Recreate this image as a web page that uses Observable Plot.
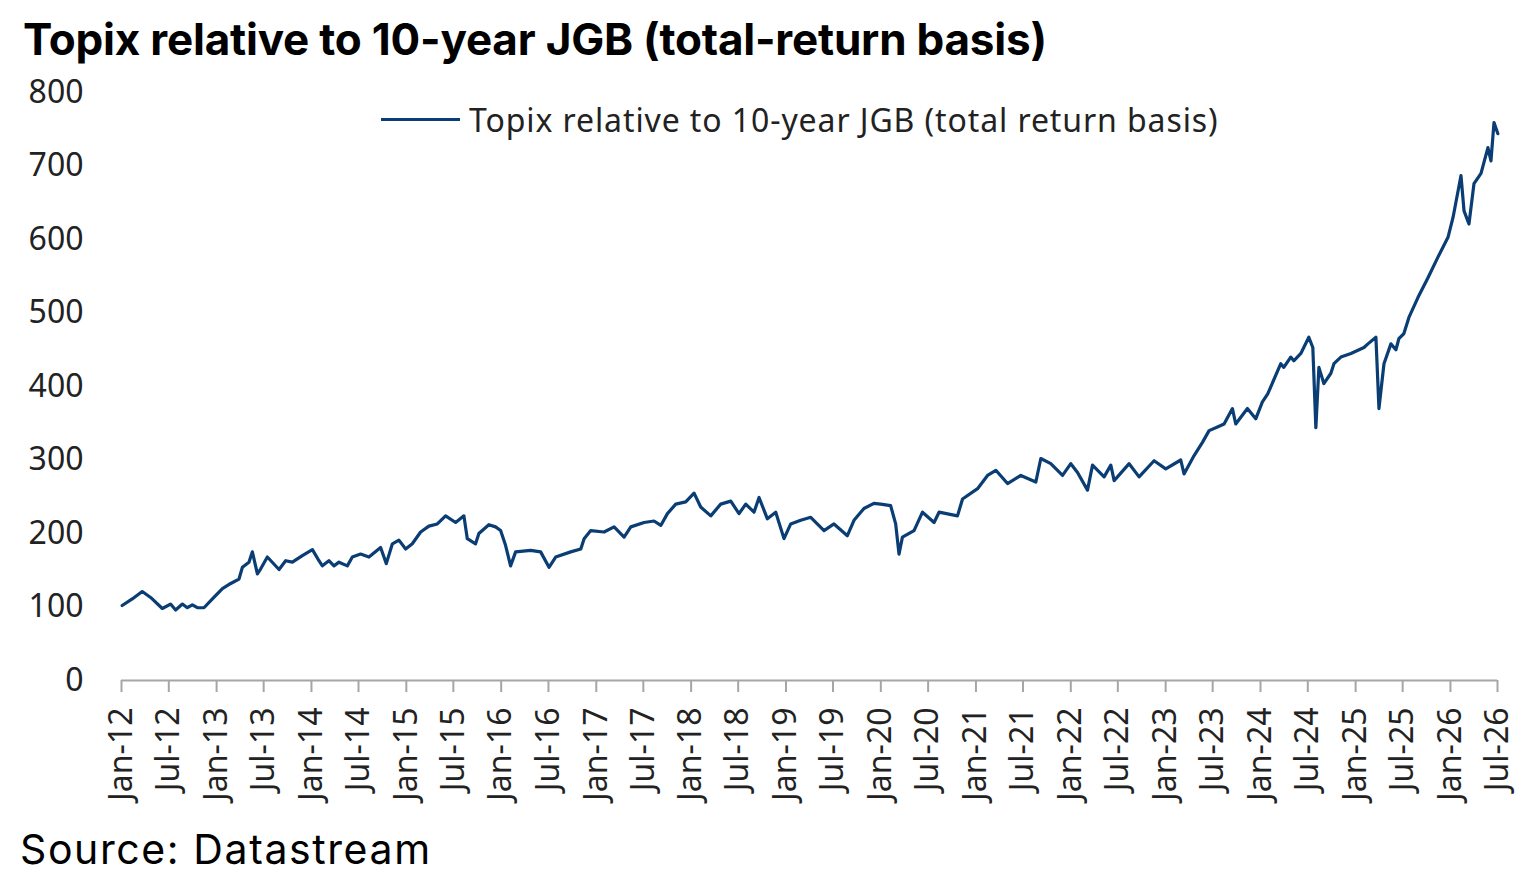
<!DOCTYPE html>
<html>
<head>
<meta charset="utf-8">
<script src="https://cdn.jsdelivr.net/npm/d3@7"></script>
<script src="https://cdn.jsdelivr.net/npm/@observablehq/plot@0.6"></script>
<style>
  html, body { margin: 0; padding: 0; background: #fff; }
  body { width: 1524px; height: 879px; position: relative; overflow: hidden; }
  #title { position: absolute; left: 23px; top: 17px; font-family: Inter, "Liberation Sans", sans-serif; font-weight: 700; font-size: 44px; line-height: 44px; color: #000; white-space: nowrap; letter-spacing: -0.2px; }
  #chart { position: absolute; left: 0; top: 70px; }
  #legend { position: absolute; left: 381px; top: 98px; display: flex; align-items: center; font-family: "Noto Sans", sans-serif; font-size: 32px; letter-spacing: 0.9px; color: #222; white-space: nowrap; }
  #legend .sw { width: 79px; height: 3px; background: #0a3d73; margin-right: 9px; }
  #source { position: absolute; left: 20px; top: 829px; font-family: Inter, "Liberation Sans", sans-serif; font-size: 41px; line-height: 41px; letter-spacing: 1.6px; color: #000; white-space: nowrap; }
</style>
</head>
<body>
<div id="title">Topix relative to 10-year JGB (total-return basis)</div>
<div id="chart"></div>
<div id="legend"><span class="sw"></span><span>Topix relative to 10-year JGB (total return basis)</span></div>
<div id="source">Source: Datastream</div>
<script>
const seriesName = "Topix relative to 10-year JGB (total return basis)";

// observation time, in decimal years
const years = [
  2012.007,2012.113,2012.218,2012.306,2012.429,2012.516,2012.569,2012.640,2012.692,2012.745,2012.798,2012.867,2012.956,
  2013.061,2013.149,2013.236,2013.272,2013.341,2013.377,2013.430,2013.465,2013.535,2013.658,2013.728,2013.799,2013.904,
  2014.010,2014.079,2014.115,2014.184,2014.237,2014.290,2014.378,2014.431,2014.518,2014.606,2014.729,2014.789,2014.853,2014.922,2014.993,
  2015.063,2015.151,2015.238,2015.327,2015.414,2015.520,2015.607,2015.643,2015.730,2015.765,2015.870,2015.941,2015.994,
  2016.046,2016.099,2016.152,2016.310,2016.415,2016.503,2016.573,2016.731,2016.837,2016.872,2016.942,
  2017.082,2017.188,2017.293,2017.364,2017.504,2017.609,2017.680,2017.750,2017.838,2017.943,
  2018.031,2018.101,2018.207,2018.312,2018.418,2018.505,2018.576,2018.663,2018.716,2018.804,2018.892,2018.979,
  2019.050,2019.155,2019.261,2019.401,2019.506,2019.647,2019.717,2019.822,2019.927,2019.998,
  2020.103,2020.156,2020.191,2020.227,2020.349,2020.438,2020.560,2020.612,2020.806,2020.859,
  2021.017,2021.122,2021.210,2021.333,2021.473,2021.631,2021.684,2021.789,2021.913,
  2022.000,2022.071,2022.176,2022.229,2022.351,2022.422,2022.457,2022.615,2022.720,2022.878,
  2023.001,2023.159,2023.194,2023.300,2023.388,2023.458,2023.546,2023.616,2023.704,2023.739,2023.862,2023.950,
  2024.020,2024.076,2024.213,2024.245,2024.318,2024.350,2024.424,2024.455,2024.508,2024.550,2024.582,2024.614,2024.666,2024.740,2024.772,2024.845,2024.951,
  2025.088,2025.130,2025.214,2025.246,2025.299,2025.372,2025.425,2025.456,2025.509,2025.562,2025.657,2025.763,2025.868,2025.974,
  2026.027,2026.111,2026.143,2026.195,2026.248,2026.322,2026.395,2026.427,2026.459,2026.500
];

const values = [
  102,111,121,113,98,104,96,104,99,103,99,99,111,
  125,132,138,154,161,175,145,152,168,151,163,161,170,
  178,163,156,163,156,161,156,168,172,168,181,159,186,191,179,
  186,202,210,213,224,215,224,193,186,200,212,209,204,
  184,156,175,177,175,154,168,175,179,193,204,
  202,209,195,209,215,217,211,227,240,243,
  255,236,224,240,244,227,240,229,249,220,229,193,
  213,218,222,204,213,197,218,234,241,240,
  238,213,172,195,204,229,215,229,224,247,
  261,279,286,268,279,270,302,295,279,
  295,283,259,293,277,293,272,295,277,299,
  288,300,281,306,324,340,345,349,370,349,370,356,
  379,390,431,426,440,435,445,453,467,453,344,426,404,418,431,440,445,
  453,458,467,370,431,458,450,465,472,494,521,548,576,603,
  630,687,639,621,676,690,725,707,759,744
];

const yTicks = [0, 100, 200, 300, 400, 500, 600, 700, 800];
const xTickLabels = [
  "Jan-12","Jul-12","Jan-13","Jul-13","Jan-14","Jul-14","Jan-15","Jul-15","Jan-16","Jul-16",
  "Jan-17","Jul-17","Jan-18","Jul-18","Jan-19","Jul-19","Jan-20","Jul-20","Jan-21","Jul-21",
  "Jan-22","Jul-22","Jan-23","Jul-23","Jan-24","Jul-24","Jan-25","Jul-25","Jan-26","Jul-26"
];

function fromDecimalYear(y) {
  const yr = Math.floor(y);
  const start = Date.UTC(yr, 0, 1), end = Date.UTC(yr + 1, 0, 1);
  return new Date(start + (y - yr) * (end - start));
}

const parseLabel = d3.utcParse("%b-%y");
const xTicks = xTickLabels.map(parseLabel);
const data = years.map((y, i) => ({date: fromDecimalYear(y), value: values[i], series: seriesName}));

const chart = Plot.plot({
  width: 1524,
  height: 745,
  marginLeft: 121,
  marginRight: 27,
  marginTop: 22,
  marginBottom: 135,
  style: {fontFamily: "'Noto Sans', sans-serif", fontSize: "32px", color: "#222", background: "#fff"},
  x: {type: "utc", domain: [xTicks[0], xTicks[xTicks.length - 1]]},
  y: {domain: [0, 800]},
  marks: [
    Plot.axisY({ticks: yTicks, tickSize: 0, tickPadding: 38, label: null, fontSize: 32}),
    Plot.axisX({ticks: xTicks, tickFormat: d3.utcFormat("%b-%y"), tickRotate: -90, tickSize: 12, tickPadding: 15, stroke: "#a6a6a6", strokeWidth: 2, label: null, fontSize: 32}),
    Plot.ruleY([0], {stroke: "#a6a6a6", strokeWidth: 2}),
    Plot.line(data, {x: "date", y: "value", stroke: "#0a3d73", strokeWidth: 3.2, strokeLinejoin: "round"})
  ]
});
document.getElementById("chart").appendChild(chart);
</script>
</body>
</html>
